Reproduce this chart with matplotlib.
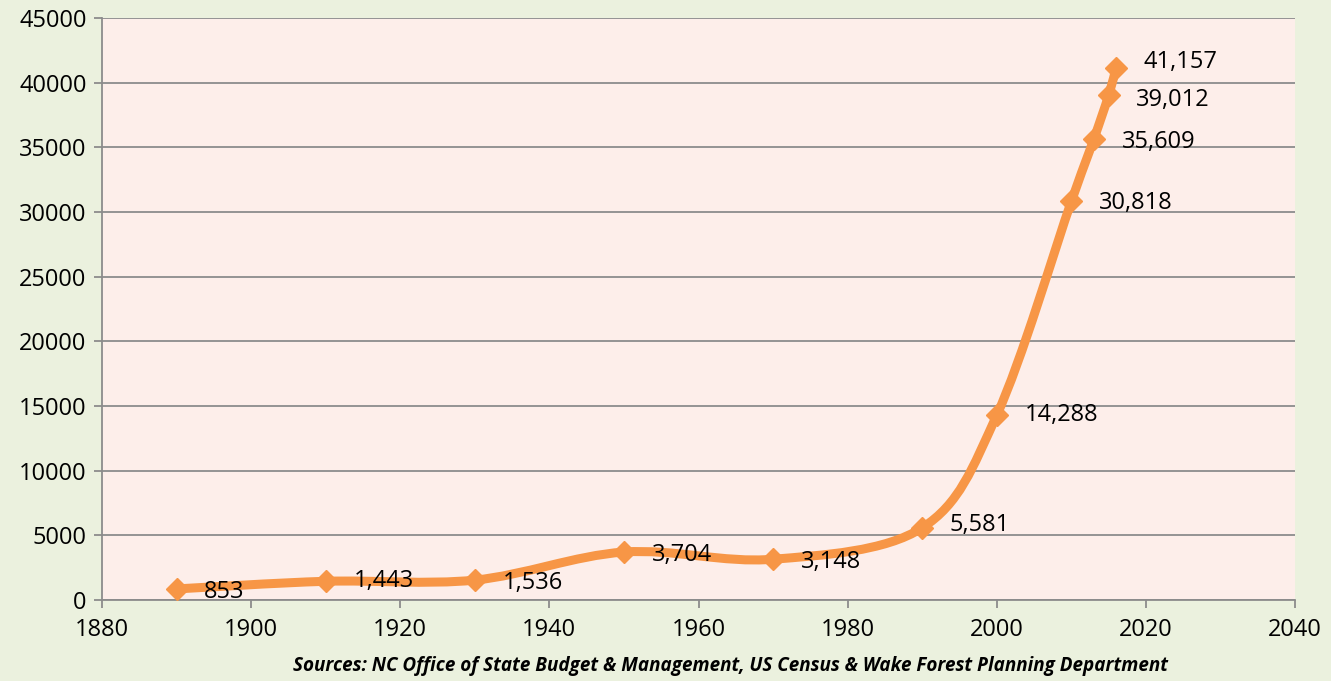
import matplotlib.pyplot as plt
from matplotlib.path import Path
from matplotlib.patches import PathPatch
import numpy as np

years = [1890, 1910, 1930, 1950, 1970, 1990, 2000, 2010, 2013, 2015, 2016]
population = [853, 1443, 1536, 3704, 3148, 5581, 14288, 30818, 35609, 39012, 41157]
labels = ['853', '1,443', '1,536', '3,704', '3,148', '5,581', '14,288',
          '30,818', '35,609', '39,012', '41,157']
label_dy = [-2, 0, -2, -2, -2, 2, 0, -1, -2, -3, 4]

x_ticks = list(range(1880, 2041, 20))
y_ticks = list(range(0, 45001, 5000))

ORANGE = '#F79646'
GRID = '#8C8C8C'

plt.rcParams['font.family'] = ['Open Sans', 'DejaVu Sans']


def smooth_path(xs, ys, sx, sy):
    # Excel-style smoothed line: Catmull-Rom turned into cubic Bezier segments,
    # worked out in screen-like units so the curve looks the same as on screen
    px = np.asarray(xs, float) * sx
    py = np.asarray(ys, float) * sy
    n = len(px)
    verts = [(px[0], py[0])]
    codes = [Path.MOVETO]
    for i in range(n - 1):
        p0 = max(i - 1, 0)
        p3 = min(i + 2, n - 1)
        c1 = (px[i] + (px[i + 1] - px[p0]) / 6, py[i] + (py[i + 1] - py[p0]) / 6)
        c2 = (px[i + 1] - (px[p3] - px[i]) / 6, py[i + 1] - (py[p3] - py[i]) / 6)
        verts += [c1, c2, (px[i + 1], py[i + 1])]
        codes += [Path.CURVE4] * 3
    verts = [(vx / sx, vy / sy) for vx, vy in verts]
    return Path(verts, codes)


fig = plt.figure(figsize=(13.31, 6.81), dpi=100)
fig.patch.set_facecolor('#EBF1DE')
ax = fig.add_axes([0.0766, 0.119, 0.8964, 0.8546])
ax.set_facecolor('#FDEEEA')

ax.set_xlim(1880, 2040)
ax.set_ylim(0, 45000)
ax.set_xticks(x_ticks)
ax.set_yticks(y_ticks)
ax.tick_params(axis='both', labelsize=17, colors=GRID, labelcolor='black',
               length=6, width=1.3, direction='out')
ax.tick_params(axis='x', pad=7)
ax.tick_params(axis='y', pad=5)
ax.grid(axis='y', color=GRID, linewidth=1.3)
ax.set_axisbelow(True)
for side in ['top', 'right']:
    ax.spines[side].set_visible(False)
for side in ['left', 'bottom']:
    ax.spines[side].set_color(GRID)
    ax.spines[side].set_linewidth(1.3)

# pixels per data unit, so the smoothing is done in screen proportions
sx = 1193 / 160
sy = 582 / 45000
path = smooth_path(years, population, sx, sy)
ax.add_patch(PathPatch(path, facecolor='none', edgecolor=ORANGE, linewidth=6.5,
                       capstyle='round', joinstyle='round', zorder=3))
ax.plot(years, population, linestyle='none', marker='D', markersize=11,
        color=ORANGE, zorder=4, clip_on=False)

for x, y, txt, dy in zip(years, population, labels, label_dy):
    ax.annotate(txt, (x, y), xytext=(20, dy), textcoords='offset points',
                ha='left', va='center', fontsize=17, color='black')

fig.text(0.549, 0.022, 'Sources: NC Office of State Budget & Management, US Census & Wake Forest Planning Department',
         ha='center', va='center', fontsize=13.6, fontweight='bold', fontstyle='italic')

fig.savefig('out.png', dpi=100, facecolor=fig.get_facecolor())
